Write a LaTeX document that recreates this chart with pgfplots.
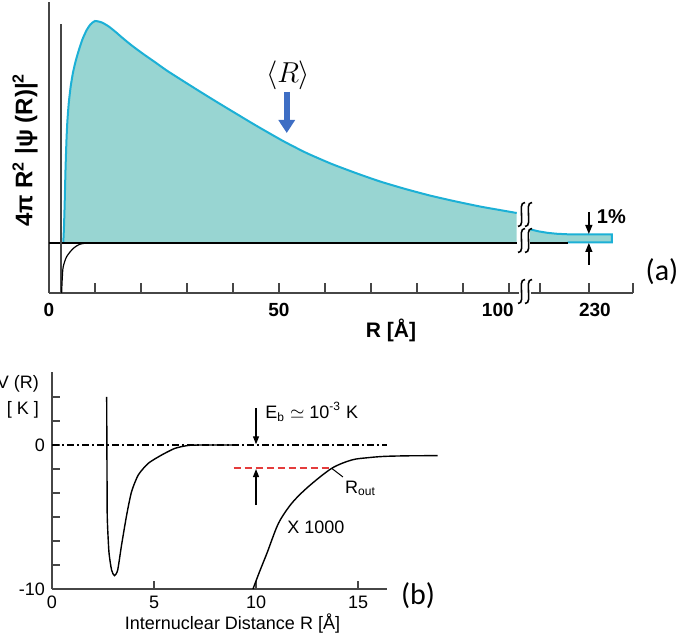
\documentclass[border=0pt]{standalone}
\usepackage{fontspec}
\setmainfont{Liberation Sans}
\newfontfamily\carlito{Carlito}
\usepackage{pgfplots}
\pgfplotsset{compat=1.18}
\usetikzlibrary{arrows.meta}
\definecolor{tealfill}{RGB}{152,213,210}
\definecolor{cyanline}{RGB}{28,176,214}
\definecolor{arrowblue}{RGB}{62,110,196}
\definecolor{axgray}{RGB}{70,70,70}
\definecolor{dashred}{RGB}{228,60,60}
\newcommand\brk[2]{\draw[line width=0.8pt,black] ({#1-3.5},{#2-12}) to[out=0,in=-90] (#1,#2) to[out=90,in=180] ({#1+3.5},{#2+12});}
\pgfplotstableread{
R h
3.1 0
3.25 15
3.4 38
3.6 75
3.8 103
4.0 122
4.3 140
4.7 156
5.2 170
5.8 182
6.5 193
7.3 204
8.2 213
9.0 218.5
10 222
11.5 220.5
13 216.5
14.5 211
16 205
18 197.5
20.5 189
23 181
25.6 172.5
29 162.5
32.8 151.5
36.5 141
40.1 131
45 117.5
50.9 102
56 90
61.5 79
67 69.5
72 61.5
77.5 54
82.8 47.5
88 42
93.7 36.5
98 33
101.7 30
}\distmain
\begin{document}
\begin{tikzpicture}[x=0.5pt,y=0.5pt]
\path[use as bounding box] (0,0) rectangle (685,636);

% ---------------- panel (a) ----------------
\begin{axis}[
 at={(24.5pt,171.5pt)}, anchor=south west, scale only axis,
 width=292pt, height=145.5pt,
 xmin=0, xmax=127, ymin=-50, ymax=241,
 axis x line=bottom, axis y line=left,
 axis line style={-, line width=1pt, axgray},
 xtick={0,10,20,30,40,50,60,70,80,90,100,106.7,117.4,127},
 xticklabels={0,,,,,50,,,,,100\hspace*{11pt},,\hspace*{6pt}230,},
 ytick=\empty,
 tick align=inside, major tick length=5pt,
 tick style={line width=0.9pt, axgray},
 xticklabel style={font=\bfseries\fontsize{9.5}{11}\selectfont, yshift=-1.5pt},
 clip=false,
]
% filled distribution, main part
\addplot[fill=tealfill, draw=none, smooth, tension=0.35] table[x=R,y=h] {\distmain} \closedcycle;
\addplot[cyanline, line width=1pt, smooth, tension=0.35] table[x=R,y=h] {\distmain};
% tail after the break
\addplot[fill=tealfill, draw=none] coordinates {
(104.6,13.7) (106.5,11.6) (108.5,10.1) (110.5,9.2) (112.8,8.7) (122.4,8.7)
} \closedcycle;
\addplot[cyanline, line width=1pt] coordinates {
(104.6,13.7) (106.5,11.6) (108.5,10.1) (110.5,9.2) (112.8,8.7) (122.4,8.7) (122.4,0.6) (112.8,0.6)
};
% baseline
\addplot[black, line width=0.8pt] coordinates {(0,0) (101.7,0)};
\addplot[black, line width=0.8pt] coordinates {(104.6,0) (112.8,0)};
% inner vertical line
\addplot[axgray, line width=0.8pt] coordinates {(2.6,-50) (2.6,219)};
% small potential curve
\addplot[black, line width=0.6pt, smooth, tension=0.5] coordinates {
(2.74,-50) (2.9,-34) (3.1,-23.7) (3.84,-13.7) (5.3,-5.3) (6.7,-1.3) (8.2,0)
};
% <R> arrow
\draw[arrowblue, line width=3.2pt, -{Triangle[width=8pt,length=6.5pt]}] (axis cs:51.7,151) -- (axis cs:51.7,110);
\node[font=\fontsize{13.5}{15}\selectfont] at (axis cs:52,168) {$\langle R\rangle$};
% 1% arrows
\draw[black, line width=0.7pt, -{Triangle[width=3.5pt,length=4.5pt]}] (axis cs:117.4,31) -- (axis cs:117.4,9);
\draw[black, line width=0.7pt, -{Triangle[width=3.5pt,length=4.5pt]}] (axis cs:117.4,-22) -- (axis cs:117.4,0);
\node[font=\bfseries\fontsize{10}{12}\selectfont] at (axis cs:122.3,26) {1\%};
\end{axis}

% break in the axis line
\fill[white] (519,339) rectangle (531,348);
\brk{521.5}{421.5}\brk{528.5}{421.5}
\brk{521.5}{395.5}\brk{528.5}{395.5}
\brk{521.5}{344.5}\brk{528.5}{344.5}

\node[font=\bfseries\fontsize{10.5}{12}\selectfont] at (391,306) {R [Å]};
\node[rotate=90, font=\bfseries\fontsize{12}{14}\selectfont] at (25,486)
 {4π\;R\textsuperscript{2}\;|ψ\;(R)|\textsuperscript{2}};
\node[font=\carlito\fontsize{15}{18}\selectfont] at (662,364) {(a)};

% ---------------- panel (b) ----------------
\begin{axis}[
 at={(26pt,23.5pt)}, anchor=south west, scale only axis,
 width=167.5pt, height=108.5pt,
 xmin=0, xmax=16.42, ymin=-10, ymax=5.07,
 axis x line=bottom, axis y line=left,
 axis line style={-, line width=1pt, axgray},
 xtick={0,5,10,15}, xticklabels={0,5,10,15},
 ytick={-10,-8.3333,-6.6667,-5,-3.3333,-1.6667,0,1.6667,3.3333},
 yticklabels={-10,,,,,,0,,},
 tick align=inside, major tick length=4pt,
 tick style={line width=0.8pt, axgray},
 ticklabel style={font=\fontsize{9}{10}\selectfont},
 clip=false,
]
\addplot[black, line width=0.6pt, dash pattern=on 3.5pt off 1.5pt on 1pt off 1.5pt] coordinates {(0,0) (16.42,0)};
\addplot[black, line width=0.7pt, smooth, tension=0.4] coordinates {
(2.68,3.35) (2.69,0) (2.70,-3) (2.71,-5.09) (2.79,-7.41) (2.92,-8.68) (3.06,-9.07)
(3.22,-8.68) (3.41,-6.94) (3.66,-4.86) (3.9,-3.24) (4.23,-2.08) (4.72,-1.27)
(5.38,-0.69) (6.03,-0.23) (6.68,-0.03) (7.3,0) (8.87,0)
};
\addplot[black, line width=0.7pt, smooth, tension=0.5] coordinates {
(9.85,-10) (10.2,-8.7) (10.54,-7.5) (11.1,-5.44) (11.75,-4.05) (12.56,-2.9)
(13.71,-1.62) (14.69,-1.04) (15.5,-0.88) (16.3,-0.79) (17.5,-0.75) (18.9,-0.74)
};
\addplot[dashred, line width=0.9pt, dash pattern=on 3.5pt off 2pt] coordinates {(8.9,-1.62) (13.71,-1.62)};
\draw[black, line width=0.6pt, -{Triangle[width=3pt,length=4pt]}] (axis cs:10,2.57) -- (axis cs:10,0.05);
\draw[black, line width=0.6pt, -{Triangle[width=3pt,length=4pt]}] (axis cs:10,-4.17) -- (axis cs:10,-1.67);
\draw[black, line width=0.5pt] (axis cs:13.71,-1.62) -- (axis cs:14.26,-2.22);
\node[anchor=west, inner sep=0pt, font=\fontsize{9}{10}\selectfont] at (axis cs:14.35,-3.0) {R\textsubscript{out}};
\node[anchor=west, inner sep=0pt, font=\fontsize{9}{10}\selectfont] at (axis cs:10.44,2.3) {E\textsubscript{b} $\simeq$ 10\textsuperscript{-3} K};
\node[font=\fontsize{9}{10}\selectfont] at (axis cs:12.94,-5.69) {X 1000};
\end{axis}

\node[anchor=east, font=\fontsize{9}{10}\selectfont] at (46,252) {V (R)};
\node[anchor=east, font=\fontsize{9}{10}\selectfont] at (46,226) {[ K ]};
\node[font=\fontsize{9}{10}\selectfont] at (232.5,12) {Internuclear Distance R [Å]};
\node[font=\carlito\fontsize{15}{18}\selectfont] at (418,40) {(b)};
\end{tikzpicture}
\end{document}
